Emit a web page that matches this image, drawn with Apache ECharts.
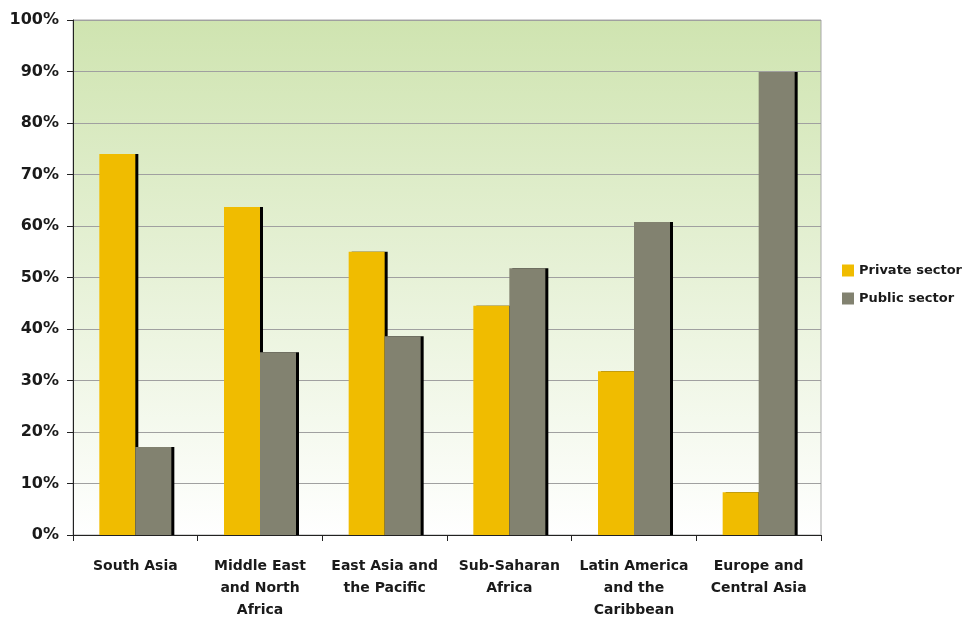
<!DOCTYPE html>
<html><head><meta charset="utf-8">
<script src="https://cdn.jsdelivr.net/npm/echarts@6/dist/echarts.min.js"></script>
<style>html,body{margin:0;padding:0;background:#fff}#c{width:964px;height:618px}</style>
</head><body><div id="c"></div>
<script>
const categories = ["South Asia", "Middle East\nand North\nAfrica", "East Asia and\nthe Pacific", "Sub-Saharan\nAfrica", "Latin America\nand the\nCaribbean", "Europe and\nCentral Asia"];
const privateSector = [74.0, 63.7, 55.0, 44.5, 31.8, 8.3];
const publicSector = [17.1, 35.5, 38.6, 51.8, 60.8, 89.9];
const seriesNames = ["Private sector", "Public sector"];

const font = "'DejaVu Sans', sans-serif";
const chart = echarts.init(document.getElementById('c'), null, {renderer: 'canvas'});
chart.setOption({
  animation: false,
  grid: {
    left: 73, right: 143, top: 20, bottom: 83,
    outerBoundsMode: 'none',
    containLabel: false,
    show: true,
    backgroundColor: new echarts.graphic.LinearGradient(0, 0, 0, 1, [
      {offset: 0, color: '#cfe4b0'},
      {offset: 1, color: '#ffffff'}
    ]),
    borderColor: '#a8a8a8', borderWidth: 1
  },
  legend: {
    orient: 'vertical', left: 837, top: 259, itemWidth: 12, itemHeight: 12, itemGap: 15,
    icon: 'rect',
    textStyle: {fontFamily: font, fontWeight: 'bold', fontSize: 13, color: '#1a1a1a'},
    data: seriesNames
  },
  xAxis: {
    type: 'category', data: categories,
    axisLine: {lineStyle: {color: '#222', width: 1}},
    axisTick: {show: true, length: 6, lineStyle: {color: '#222'}},
    axisLabel: {fontFamily: font, fontWeight: 'bold', fontSize: 14, color: '#1a1a1a', lineHeight: 22, margin: 20, interval: 0}
  },
  yAxis: {
    type: 'value', min: 0, max: 100, interval: 10,
    axisLine: {show: true, lineStyle: {color: '#222'}},
    axisTick: {show: true, length: 6, lineStyle: {color: '#222'}},
    axisLabel: {formatter: '{value}%', fontFamily: font, fontWeight: 'bold', fontSize: 16, color: '#1a1a1a', margin: 14},
    splitLine: {lineStyle: {color: '#a0a0a0', width: 1}}
  },
  series: [
    {name: seriesNames[0], type: 'bar', data: privateSector, barWidth: 36, barGap: '0%',
     itemStyle: {color: '#f0bc00', shadowColor: '#000', shadowOffsetX: 3, shadowOffsetY: 0, shadowBlur: 0}},
    {name: seriesNames[1], type: 'bar', data: publicSector, barWidth: 36, barGap: '0%',
     itemStyle: {color: '#828270', shadowColor: '#000', shadowOffsetX: 3, shadowOffsetY: 0, shadowBlur: 0}}
  ]
});
</script></body></html>
